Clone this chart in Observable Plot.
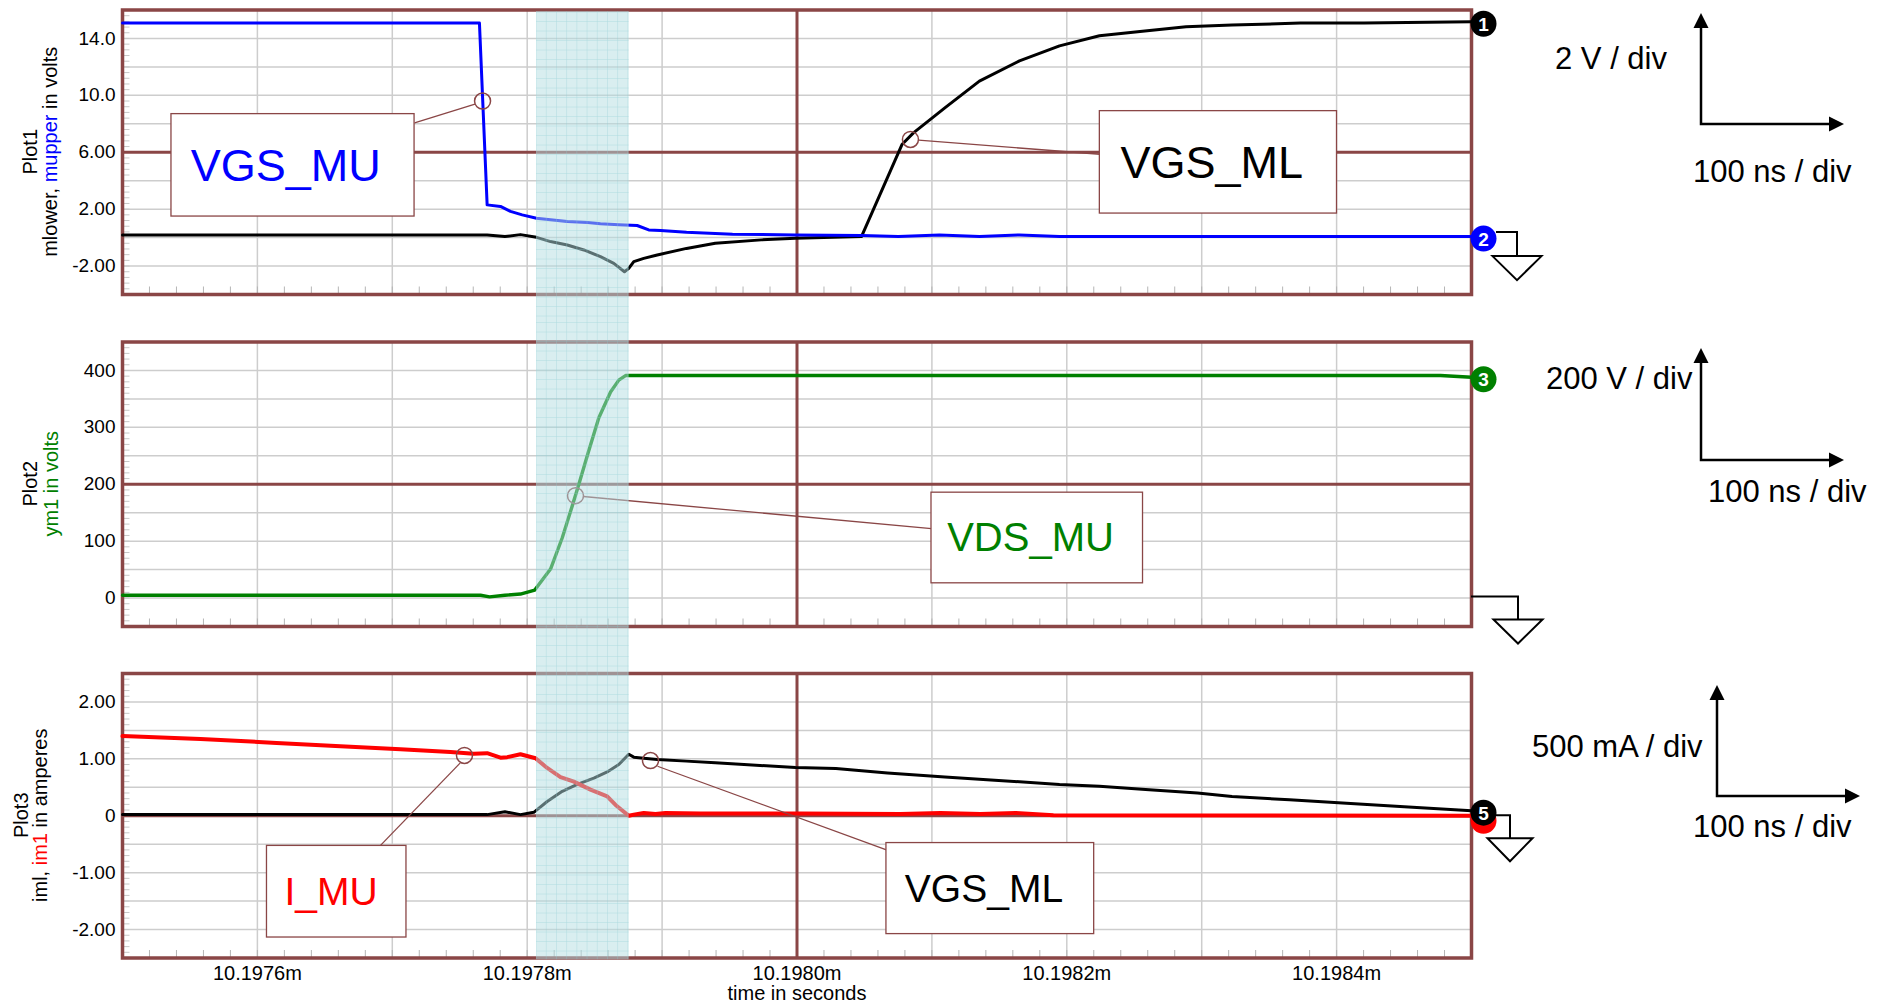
<!DOCTYPE html>
<html>
<head>
<meta charset="utf-8">
<script src="https://cdn.jsdelivr.net/npm/d3@7"></script>
<script src="https://cdn.jsdelivr.net/npm/@observablehq/plot@0.6"></script>
<style>
html, body { margin: 0; padding: 0; background: #ffffff; }
#root { position: relative; width: 1885px; height: 1005px; overflow: hidden; background: #ffffff; }
#root svg { position: absolute; left: 0; }
</style>
</head>
<body>
<div id="root"></div>
<script>
// ---------------- DATA ----------------
// time axis in milliseconds
const xDomain = [10.1975, 10.1985];
const xTicks = [10.1976, 10.1978, 10.1980, 10.1982, 10.1984];
const xTickLabels = ["10.1976m", "10.1978m", "10.1980m", "10.1982m", "10.1984m"];
const xGrid = [10.1976, 10.1977, 10.1978, 10.1979, 10.1980, 10.1981, 10.1982, 10.1983, 10.1984];
const xCenter = 10.1980;
const xLabel = "time in seconds";
const bandRange = [10.1978069, 10.1978756];

// Plot1 : mlower, mupper in volts
const p1Domain = [-4, 16];
const p1Ticks = [14, 10, 6, 2, -2];
const p1TickLabels = ["14.0", "10.0", "6.00", "2.00", "-2.00"];
const p1Grid = [-2, 0, 2, 4, 6, 8, 10, 12, 14];
const p1Center = 6;

const mlowerT = [10.1975000, 10.1977703, 10.1977835, 10.1977950, 10.1978069, 10.1978173, 10.1978297, 10.1978420, 10.1978543, 10.1978642, 10.1978721, 10.1978753, 10.1978790, 10.1978864, 10.1978964, 10.1979181, 10.1979394, 10.1979735, 10.1979989, 10.1980478, 10.1980778, 10.1980863, 10.1981096, 10.1981352, 10.1981649, 10.1981946, 10.1982242, 10.1982543, 10.1982884, 10.1983225, 10.1983732, 10.1984203, 10.1985000];
const mlowerV = [0.19, 0.19, 0.07, 0.21, 0.02, -0.28, -0.52, -0.87, -1.34, -1.81, -2.40, -2.16, -1.69, -1.46, -1.22, -0.76, -0.40, -0.16, -0.05, 0.07, 6.54, 7.36, 9.12, 11.00, 12.42, 13.48, 14.19, 14.49, 14.82, 14.94, 15.08, 15.08, 15.17];

const mupperT = [10.1975000, 10.1977646, 10.1977703, 10.1977802, 10.1977876, 10.1977963, 10.1978069, 10.1978173, 10.1978297, 10.1978449, 10.1978543, 10.1978679, 10.1978815, 10.1978901, 10.1978988, 10.1979181, 10.1979522, 10.1979989, 10.1980478, 10.1980752, 10.1981056, 10.1981353, 10.1981649, 10.1981946, 10.1985000];
const mupperV = [15.08, 15.08, 2.30, 2.19, 1.84, 1.60, 1.36, 1.25, 1.13, 1.06, 0.97, 0.90, 0.85, 0.54, 0.50, 0.37, 0.23, 0.19, 0.14, 0.07, 0.19, 0.07, 0.19, 0.07, 0.07];

// Plot2 : ym1 in volts
const p2Domain = [-50, 450];
const p2Ticks = [400, 300, 200, 100, 0];
const p2TickLabels = ["400", "300", "200", "100", "0"];
const p2Grid = [0, 50, 100, 150, 200, 250, 300, 350, 400];
const p2Center = 200;

const ym1T = [10.1975000, 10.1977654, 10.1977721, 10.1977835, 10.1977950, 10.1978056, 10.1978173, 10.1978260, 10.1978334, 10.1978383, 10.1978449, 10.1978531, 10.1978618, 10.1978679, 10.1978729, 10.1978766, 10.1984770, 10.1985000];
const ym1V = [5, 5, 2, 5, 7, 14, 51, 106, 162, 200, 253, 317, 362, 383, 391, 391, 391, 388];

// Plot3 : iml, im1 in amperes
const p3Domain = [-2.5, 2.5];
const p3Ticks = [2, 1, 0, -1, -2];
const p3TickLabels = ["2.00", "1.00", "0", "-1.00", "-2.00"];
const p3Grid = [-2, -1.5, -1, -0.5, 0, 0.5, 1, 1.5, 2];
const p3Center = 0;

const imlT = [10.1975000, 10.1977703, 10.1977835, 10.1977950, 10.1978049, 10.1978148, 10.1978260, 10.1978371, 10.1978494, 10.1978593, 10.1978679, 10.1978753, 10.1978790, 10.1978864, 10.1978964, 10.1979181, 10.1979394, 10.1979607, 10.1979989, 10.1980288, 10.1980671, 10.1981096, 10.1981437, 10.1981946, 10.1982242, 10.1982584, 10.1982969, 10.1983225, 10.1983651, 10.1984074, 10.1984501, 10.1985000];
const imlV = [0.02, 0.02, 0.07, 0.02, 0.06, 0.25, 0.43, 0.55, 0.66, 0.77, 0.90, 1.08, 1.03, 1.01, 0.99, 0.96, 0.93, 0.90, 0.85, 0.83, 0.75, 0.68, 0.63, 0.55, 0.52, 0.46, 0.40, 0.34, 0.28, 0.22, 0.16, 0.09];

const im1T = [10.1975000, 10.1975578, 10.1976142, 10.1976616, 10.1977061, 10.1977431, 10.1977602, 10.1977703, 10.1977802, 10.1977852, 10.1977950, 10.1978062, 10.1978148, 10.1978247, 10.1978346, 10.1978469, 10.1978593, 10.1978655, 10.1978753, 10.1978790, 10.1978864, 10.1978951, 10.1979025, 10.1979285, 10.1980026, 10.1980767, 10.1981064, 10.1981360, 10.1981620, 10.1981901, 10.1985000];
const im1V = [1.40, 1.35, 1.28, 1.22, 1.17, 1.12, 1.09, 1.10, 1.02, 1.03, 1.08, 1.01, 0.84, 0.68, 0.60, 0.46, 0.34, 0.19, 0.00, 0.02, 0.05, 0.03, 0.05, 0.04, 0.04, 0.03, 0.05, 0.03, 0.05, 0.01, 0.00];

// annotation callouts (anchor points in data units)
const notes1 = [
  {label: "VGS_MU", ct: 10.1977669, cv: 9.6, l1t: 10.1977613, l1v: 9.39, l2t: 10.1977165, l2v: 8.07, bt1: 10.1975363, bt2: 10.1977165, bv1: 1.48, bv2: 8.68, tt: 10.1976210, tv: 4.97},
  {label: "VGS_ML", ct: 10.1980841, cv: 6.9, l1t: 10.1980901, l1v: 6.85, l2t: 10.1982245, l2v: 5.86, bt1: 10.1982245, bt2: 10.1984003, bv1: 1.69, bv2: 8.89, tt: 10.1983075, tv: 5.20}
];
const notes2 = [
  {label: "VDS_MU", ct: 10.1978358, cv: 180, l1t: 10.1978417, l1v: 178.5, l2t: 10.1980997, l2v: 121.9, bt1: 10.1980997, bt2: 10.1982565, bv1: 25.9, bv2: 185.2, tt: 10.1981731, tv: 105.2}
];
const notes3 = [
  {label: "I_MU", ct: 10.1977535, cv: 1.06, l1t: 10.1977504, l1v: 0.93, l2t: 10.1976909, l2v: -0.53, bt1: 10.1976071, bt2: 10.1977105, bv1: -2.14, bv2: -0.53, tt: 10.1976546, tv: -1.35},
  {label: "VGS_ML", ct: 10.1978914, cv: 0.97, l1t: 10.1978966, l1v: 0.87, l2t: 10.1980663, l2v: -0.60, bt1: 10.1980663, bt2: 10.1982203, bv1: -2.08, bv2: -0.48, tt: 10.1981386, tv: -1.29}
];

// ---------------- STYLE ----------------
const FONT = '"Liberation Sans", Arial, Helvetica, sans-serif';
const FRAME = "#8a4646";
const GRID = "#cdcdcd";
const MINOR = "#b5b5b5";
const BLUE = "#0000ff", BLACK = "#000000", GREEN = "#008000", RED = "#ff0000";

const series = (T, V) => T.map((t, i) => ({t, v: V[i]}));
const mlower = series(mlowerT, mlowerV);
const mupper = series(mupperT, mupperV);
const ym1 = series(ym1T, ym1V);
const iml = series(imlT, imlV);
const im1 = series(im1T, im1V);
const last = (s) => [s[s.length - 1]];

const W = 1885, ML = 122, MR = 414;

const panels = [
  {
    id: 1, top: 0, height: 318, mt: 9.5, mb: 24,
    domain: p1Domain, ticks: p1Ticks, tickLabels: p1TickLabels, grid: p1Grid, center: p1Center, minorStep: 0.4,
    lines: [{data: mlower, stroke: BLACK, w: 3}, {data: mupper, stroke: BLUE, w: 3}],
    markers: [{data: mlower, label: "1", fill: BLACK}, {data: mupper, label: "2", fill: BLUE}],
    notes: notes1, noteColors: [BLUE, BLACK], noteSizes: [45, 45],
    title: [{x: 36.5, parts: [["Plot1", BLACK]]}, {x: 57, parts: [["mlower, ", BLACK], ["mupper", BLUE], [" in volts", BLACK]]}],
    ground: {x0: 1496, gx: 1517, dy: -5, stem: 24, half: 24.5, h: 24},
    legend: {vText: "2 V / div", vx: 1555, vy: 69, ox: 1701, oy: 124, upY: 13, rightX: 1844, hx: 1693, hy: 181.7},
    bandTop: (p) => p.mt + 1.75, bandBottom: (p) => p.height
  },
  {
    id: 2, top: 318, height: 332, mt: 23.5, mb: 24,
    domain: p2Domain, ticks: p2Ticks, tickLabels: p2TickLabels, grid: p2Grid, center: p2Center, minorStep: 10,
    lines: [{data: ym1, stroke: GREEN, w: 3.4}],
    markers: [{data: ym1, label: "3", fill: GREEN}],
    notes: notes2, noteColors: [GREEN], noteSizes: [40],
    title: [{x: 36.5, parts: [["Plot2", BLACK]]}, {x: 57.5, parts: [["ym1 in volts", GREEN]]}],
    ground: {x0: 1471, gx: 1518, dy: -1, stem: 23, half: 24.5, h: 24},
    legend: {vText: "200 V / div", vx: 1546, vy: 389, ox: 1701, oy: 460, upY: 348, rightX: 1844, hx: 1708, hy: 501.7},
    bandTop: () => 0, bandBottom: (p) => p.height
  },
  {
    id: 3, top: 650, height: 355, mt: 23, mb: 47.5,
    domain: p3Domain, ticks: p3Ticks, tickLabels: p3TickLabels, grid: p3Grid, center: p3Center, minorStep: 0.1,
    lines: [{data: iml, stroke: BLACK, w: 3}, {data: im1, stroke: RED, w: 4}],
    markers: [{data: im1, label: "", fill: RED}, {data: iml, label: "5", fill: BLACK}],
    notes: notes3, noteColors: [RED, BLACK], noteSizes: [39, 39],
    title: [{x: 27.5, parts: [["Plot3", BLACK]]}, {x: 46.5, parts: [["iml, ", BLACK], ["im1", RED], [" in amperes", BLACK]]}],
    ground: {x0: 1496, gx: 1510, dy: 0, stem: 23, half: 22.5, h: 23},
    legend: {vText: "500 mA / div", vx: 1532, vy: 756.7, ox: 1717, oy: 796, upY: 685, rightX: 1860, hx: 1693, hy: 836.7},
    bandTop: () => 0, bandBottom: (p) => p.height - p.mb + 1.75,
    showX: true
  }
];

const root = document.getElementById("root");

function makePanel(p) {
  const plotH = p.height - p.mt - p.mb;
  const ySpan = p.domain[1] - p.domain[0];
  const xSpan = xDomain[1] - xDomain[0];
  const tickLenY = 7.5 * ySpan / plotH;               // 7.5 px upward, in data units
  const tickLenX = 7.5 * xSpan / (W - ML - MR);        // 7.5 px rightward, in data units
  const nMinorX = Math.round(xSpan / 0.00002);
  const minorX = d3.range(0, nMinorX + 1).map(i => xDomain[0] + i * 0.00002);
  const nMinorY = Math.round(ySpan / p.minorStep);
  const minorY = d3.range(0, nMinorY + 1).map(i => p.domain[0] + i * p.minorStep);

  const marks = [
    Plot.ruleX(xGrid, {stroke: GRID, strokeWidth: 1.5}),
    Plot.ruleY(p.grid, {stroke: GRID, strokeWidth: 1.5}),
    Plot.ruleX(minorX, {y1: p.domain[0], y2: p.domain[0] + tickLenY, stroke: MINOR, strokeWidth: 1}),
    Plot.ruleY(minorY, {x1: xDomain[0], x2: xDomain[0] + tickLenX, stroke: "#c8c8c8", strokeWidth: 1}),
    Plot.ruleX([xCenter], {stroke: FRAME, strokeWidth: 3}),
    Plot.ruleY([p.center], {stroke: FRAME, strokeWidth: 3}),
    Plot.frame({stroke: FRAME, strokeWidth: 3.5}),
    ...p.lines.map(l => Plot.line(l.data, {x: "t", y: "v", stroke: l.stroke, strokeWidth: l.w, strokeLinejoin: "round", strokeLinecap: "round"})),
    Plot.link(p.notes, {x1: "l1t", y1: "l1v", x2: "l2t", y2: "l2v", stroke: FRAME, strokeWidth: 1.3}),
    Plot.dot(p.notes, {x: "ct", y: "cv", r: 8, stroke: FRAME, strokeWidth: 1.5, fill: "none"}),
    Plot.rect(p.notes, {x1: "bt1", x2: "bt2", y1: "bv1", y2: "bv2", fill: "white", stroke: FRAME, strokeWidth: 1.3}),
    ...p.notes.map((n, i) => Plot.text([n], {x: "tt", y: "tv", text: "label", fill: p.noteColors[i], fontSize: p.noteSizes[i], fontFamily: FONT})),
    ...p.markers.map(m => Plot.dot(last(m.data), {x: "t", y: "v", r: 13, fill: m.fill, dx: 12, dy: m.fill === RED ? 5 : 2})),
    ...p.markers.filter(m => m.label).map(m => Plot.text(last(m.data), {x: "t", y: "v", text: () => m.label, fill: "white", dx: 12, dy: 3, fontSize: 19, fontWeight: "bold", fontFamily: FONT}))
  ];
  if (p.showX) {
    marks.push(Plot.text([xLabel], {x: () => xCenter, frameAnchor: "bottom", lineAnchor: "top", dy: 28, text: d => d, fontSize: 20, fill: BLACK, fontFamily: FONT}));
  }

  const chart = Plot.plot({
    width: W, height: p.height,
    marginLeft: ML, marginRight: MR, marginTop: p.mt, marginBottom: p.mb,
    style: {fontFamily: FONT, fontSize: "19px", color: "#000", background: "transparent", overflow: "visible"},
    x: p.showX
      ? {domain: xDomain, ticks: xTicks, tickFormat: d => xTickLabels[xTicks.indexOf(d)], tickSize: 0, tickPadding: 8, label: null}
      : {domain: xDomain, axis: null},
    y: {domain: p.domain, ticks: p.ticks, tickFormat: d => p.tickLabels[p.ticks.indexOf(d)], tickSize: 0, tickPadding: 7, label: null},
    marks
  });
  chart.style.top = p.top + "px";
  root.appendChild(chart);

  const svg = d3.select(chart);
  if (p.showX) {
    svg.selectAll('[aria-label^="x-axis"] text').attr("font-size", 20);
  }
  const sx = chart.scale("x"), sy = chart.scale("y");
  const X = v => sx.apply(v), Y = v => sy.apply(v);

  // shaded transition band (drawn over the traces, like the reference)
  const bx0 = X(bandRange[0]), bx1 = X(bandRange[1]);
  const by0 = p.bandTop(p), by1 = p.bandBottom(p);
  const pid = "bandgrid" + p.id;
  const defs = svg.append("defs");
  const pat = defs.append("pattern").attr("id", pid).attr("patternUnits", "userSpaceOnUse")
    .attr("width", 10.2).attr("height", 9.5).attr("x", bx0 + 0.5).attr("y", p.id === 1 ? 3 : (p.id === 2 ? 5 : 7));
  pat.append("path").attr("d", "M10.2,0V9.5M0,9.5H10.2").attr("stroke", "#8ccbd2").attr("stroke-width", 1).attr("fill", "none");
  svg.append("rect").attr("x", bx0).attr("y", by0).attr("width", bx1 - bx0).attr("height", by1 - by0)
    .attr("fill", "#b3dde2").attr("fill-opacity", 0.5);
  svg.append("rect").attr("x", bx0).attr("y", by0).attr("width", bx1 - bx0).attr("height", by1 - by0)
    .attr("fill", `url(#${pid})`).attr("opacity", 0.55);

  // y-axis title (two rotated lines, with coloured series names)
  const cy = (Y(p.domain[0]) + Y(p.domain[1])) / 2;
  p.title.forEach(line => {
    const t = svg.append("text")
      .attr("transform", `translate(${line.x},${cy}) rotate(-90)`)
      .attr("text-anchor", "middle")
      .attr("font-family", FONT).attr("font-size", 20);
    line.parts.forEach(([s, c]) => t.append("tspan").attr("fill", c).text(s));
  });

  // ground symbol at the zero level
  const g = p.ground;
  const y0 = Y(0) + g.dy;
  const gg = svg.append("g").attr("stroke", "#000").attr("stroke-width", 2).attr("fill", "none");
  gg.append("path").attr("d", `M${g.x0},${y0}H${g.gx}V${y0 + g.stem}`);
  gg.append("path").attr("d", `M${g.gx - g.half},${y0 + g.stem}H${g.gx + g.half}L${g.gx},${y0 + g.stem + g.h}Z`).attr("fill", "white");

  // scale legend (text + arrows), page coordinates -> svg coordinates
  const L = p.legend, T0 = p.top;
  const lg = svg.append("g").attr("text-anchor", "start");
  lg.append("text").attr("x", L.vx).attr("y", L.vy - T0).attr("text-anchor", "start").attr("font-family", FONT).attr("font-size", 31).attr("fill", "#000").text(L.vText);
  lg.append("text").attr("x", L.hx).attr("y", L.hy - T0).attr("text-anchor", "start").attr("font-family", FONT).attr("font-size", 31).attr("fill", "#000").text("100 ns / div");
  const oy = L.oy - T0, upY = L.upY - T0;
  lg.append("path").attr("d", `M${L.ox},${upY + 12}V${oy}H${L.rightX - 12}`).attr("stroke", "#000").attr("stroke-width", 2.5).attr("fill", "none");
  lg.append("path").attr("d", `M${L.ox},${upY}L${L.ox - 7.5},${upY + 15}L${L.ox + 7.5},${upY + 15}Z`).attr("fill", "#000");
  lg.append("path").attr("d", `M${L.rightX},${oy}L${L.rightX - 15},${oy - 7.5}L${L.rightX - 15},${oy + 7.5}Z`).attr("fill", "#000");
}

panels.forEach(makePanel);
</script>
</body>
</html>
